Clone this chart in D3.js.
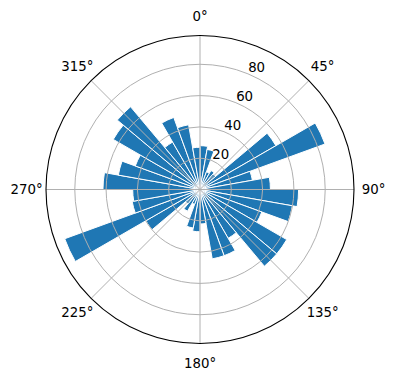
<!DOCTYPE html>
<html>
<head>
<meta charset="utf-8">
<script src="https://cdn.jsdelivr.net/npm/d3@7"></script>
<style>
  body { margin: 0; background: #fff; }
  text { font-family: "DejaVu Sans", sans-serif; font-size: 13.33px; fill: #000; }
</style>
</head>
<body>
<div id="rose"></div>
<script>
// bin start angles (degrees, clockwise from north), each bin 10 degrees wide
var binStart = [0, 10, 20, 30, 40, 50, 60, 70, 80, 90, 100, 110,
  120, 130, 140, 150, 160, 170, 180, 190, 200, 210, 220, 230,
  240, 250, 260, 270, 280, 290, 300, 310, 320, 330, 340, 350];
var counts = [28, 26, 12, 14, 13, 56, 85, 34, 45, 63, 60, 42,
  64, 64, 36, 45, 45, 22, 27, 25, 10, 16, 12, 40,
  92, 44, 43, 62, 53, 44, 64, 69, 35, 49, 42, 27];
var binWidth = 10;
var rTicks = [20, 40, 60, 80];
var thetaTicks = [0, 45, 90, 135, 180, 225, 270, 315];

var width = 396, height = 380,
  cx = 200, cy = 189.5,
  outer = 154;

var r = d3.scaleLinear()
  .domain([0, 98.4])
  .range([0, outer]);

var rad = function(deg) { return deg * Math.PI / 180; };

var svg = d3.select("#rose").append("svg")
  .attr("width", width)
  .attr("height", height);

var g = svg.append("g")
  .attr("transform", "translate(" + cx + "," + cy + ")");

// bars
var arc = d3.arc()
  .innerRadius(0)
  .outerRadius(function(d) { return r(d.v); })
  .startAngle(function(d) { return rad(d.a); })
  .endAngle(function(d) { return rad(d.a + binWidth); });

var bins = binStart.map(function(a, i) { return { a: a, v: counts[i] }; });

g.selectAll("path.bar")
  .data(bins).enter()
  .append("path")
  .attr("class", "bar")
  .attr("d", arc)
  .attr("fill", "#1f77b4")
  .attr("stroke", "#fff")
  .attr("stroke-width", 1)
  .attr("stroke-linejoin", "miter");

// grid on top of the bars, like matplotlib
g.selectAll("circle.grid")
  .data(rTicks).enter()
  .append("circle")
  .attr("r", function(d) { return r(d); })
  .attr("fill", "none")
  .attr("stroke", "#b0b0b0")
  .attr("stroke-width", 1);

g.selectAll("line.spoke")
  .data(thetaTicks).enter()
  .append("line")
  .attr("x1", 0).attr("y1", 0)
  .attr("x2", function(d) { return outer * Math.sin(rad(d)); })
  .attr("y2", function(d) { return -outer * Math.cos(rad(d)); })
  .attr("stroke", "#b0b0b0")
  .attr("stroke-width", 1);

// outer frame
g.append("circle")
  .attr("r", outer)
  .attr("fill", "none")
  .attr("stroke", "#000")
  .attr("stroke-width", 1.1);

// angle labels
g.selectAll("text.theta")
  .data(thetaTicks).enter()
  .append("text")
  .attr("x", function(d) { return (outer + 19.5) * Math.sin(rad(d)); })
  .attr("y", function(d) { return -(outer + 19.5) * Math.cos(rad(d)); })
  .attr("text-anchor", "middle")
  .attr("dominant-baseline", "central")
  .text(function(d) { return d + "°"; });

// radial labels at 22.5 degrees
g.selectAll("text.rlab")
  .data(rTicks).enter()
  .append("text")
  .attr("x", function(d) { return r(d) * Math.sin(rad(22.5)) + 8.7; })
  .attr("y", function(d) { return -r(d) * Math.cos(rad(22.5)) - 6; })
  .attr("text-anchor", "middle")
  .attr("dominant-baseline", "central")
  .text(function(d) { return d; });
</script>
</body>
</html>
